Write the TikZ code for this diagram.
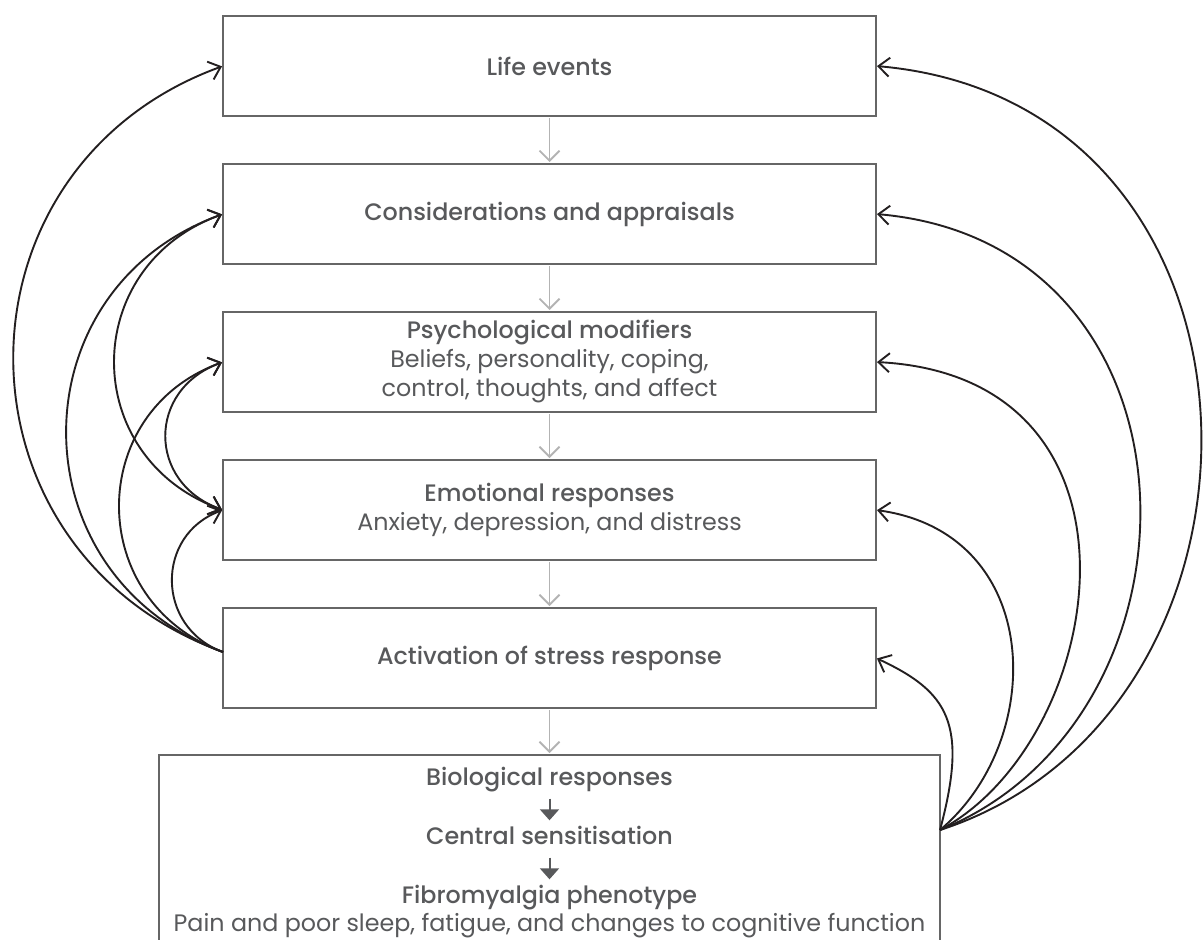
\documentclass[tikz,border=0pt]{standalone}
\usepackage{fontspec}
\setmainfont{Poppins}[BoldFont={Poppins Medium}]
\usepackage{xcolor}
\usepackage{tikz}
\usetikzlibrary{arrows.meta,positioning}

\definecolor{txtgrey}{HTML}{58595B}
\definecolor{boxgrey}{HTML}{666666}
\definecolor{flowgrey}{HTML}{B3B3B3}
\definecolor{curveblack}{HTML}{231F20}

\begin{document}
\begin{tikzpicture}[
    x=1pt, y=1pt,
    node distance=48pt,
    stage/.style={draw=boxgrey, line width=2pt, fill=white, outer sep=0pt, align=center, minimum width=653pt, minimum height=100pt, text=txtgrey, font=\fontsize{23.8}{29}\selectfont},
    substep/.style={align=center, text=txtgrey, inner xsep=0pt, inner ysep=7.25pt, text height=17pt, text depth=5.5pt, font=\fontsize{23.8}{29}\selectfont},
    flow/.style={-{Straight Barb[length=10pt,width=20pt]}, line width=1.8pt, draw=flowgrey, shorten <=2pt, shorten >=2pt},
    tri/.style={-{Triangle[length=11pt,width=19pt]}, line width=2pt, draw=txtgrey},
    feedback/.style={-{Straight Barb[length=11pt,width=19pt]}, line width=1.9pt, draw=curveblack, shorten >=1pt},
    feedboth/.style={{Straight Barb[length=11pt,width=19pt]}-{Straight Barb[length=11pt,width=19pt]}, line width=1.9pt, draw=curveblack, shorten >=1pt, shorten <=1pt}
]
\useasboundingbox (0,0) rectangle (1203,-940);

\node[stage] (life) at (549.5,-66) {\textbf{Life events}};
\node[stage, below=of life] (cons) {\textbf{Considerations and appraisals}};
\node[stage, below=of cons] (psych) {\textbf{Psychological modifiers}\\Beliefs, personality, coping,\\control, thoughts, and affect};
\node[stage, below=of psych] (emot) {\textbf{Emotional responses}\\Anxiety, depression, and distress};
\node[stage, below=of emot] (act) {\textbf{Activation of stress response}};
\node[stage, below=47pt of act, minimum width=781pt, minimum height=205pt] (bottombox) {};

% inside the bottom box
\node[substep] (bio) at (549.5,-780) {\textbf{Biological responses}};
\node[substep] (central) at (549.5,-839) {\textbf{Central sensitisation}};
\node[substep] (pheno) at (549.5,-898) {\textbf{Fibromyalgia phenotype}};
\node[substep] (phenodesc) at (549.5,-926) {Pain and poor sleep, fatigue, and changes to cognitive function};

\coordinate (hubL) at ([yshift=6pt]act.west);
\coordinate (hubR) at ([yshift=-75pt]bottombox.north east);

\draw[flow] (life) -- (cons);
\draw[flow] (cons) -- (psych);
\draw[flow] (psych) -- (emot);
\draw[flow] (emot) -- (act);
\draw[flow] (act) -- (bottombox);

\draw[tri] (bio) -- (central);
\draw[tri] (central) -- (pheno);

% left side
\draw[feedback] (hubL) to[out=160, in=200, looseness=1.3] (life.west);
\draw[feedback] (hubL) to[out=160, in=200, looseness=1.3] (cons.west);
\draw[feedback] (hubL) to[out=160, in=200, looseness=1.3] (psych.west);
\draw[feedback] (hubL) to[out=160, in=200, looseness=1.3] (emot.west);
\draw[feedboth] (cons.west) to[out=200, in=160, looseness=1.33] (emot.west);
\draw[feedboth] (psych.west) to[out=200, in=160, looseness=1.4] (emot.west);

% right side
\draw[feedback] (hubR) to[out=18, in=-5, out distance=380pt, in distance=420pt] (life.east);
\draw[feedback] (hubR) to[out=22, in=-5, out distance=300pt, in distance=340pt] (cons.east);
\draw[feedback] (hubR) to[out=28, in=-3, out distance=190pt, in distance=290pt] (psych.east);
\draw[feedback] (hubR) to[out=40, in=-8, out distance=140pt, in distance=170pt] (emot.east);
\draw[feedback] (hubR) to[out=75, in=-25, out distance=110pt, in distance=80pt] (act.east);
\end{tikzpicture}
\end{document}
